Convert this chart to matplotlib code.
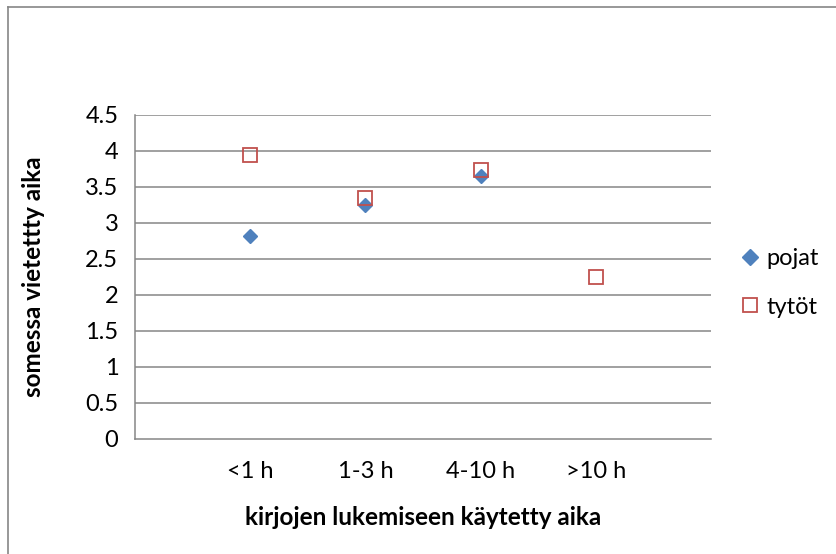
import matplotlib
matplotlib.use('Agg')
import matplotlib.pyplot as plt
from matplotlib.lines import Line2D

# tiedot
luokat = ['<1 h', '1-3 h', '4-10 h', '>10 h']
x_pojat = [1, 2, 3]
pojat = [2.81, 3.24, 3.64]
x_tytot = [1, 2, 3, 4]
tytot = [3.94, 3.34, 3.73, 2.25]
y_ticks = [0, 0.5, 1, 1.5, 2, 2.5, 3, 3.5, 4, 4.5]

plt.rcParams['font.family'] = ['Lato', 'DejaVu Sans']

fig = plt.figure(figsize=(8.36, 5.54), dpi=100)
ax = fig.add_axes([135/836, 1 - 438.5/554, (711 - 135)/836, (438.5 - 114.5)/554])

harmaa = '#868686'
for y in y_ticks[1:]:
    ax.axhline(y, color=harmaa, lw=1.1, zorder=1)

ax.plot(x_pojat, pojat, 'D', color='#4F81BD', ms=7, mec='#4F81BD',
        ls='none', label='pojat', zorder=3)
ax.plot(x_tytot, tytot, 's', mfc='none', mec='#C0504D', mew=1.3, ms=9.5,
        ls='none', label='tytöt', zorder=4)

ax.set_xlim(0, 5)
ax.set_ylim(0, 4.5)
ax.set_yticks(y_ticks)
ax.set_yticklabels([f'{v:g}' for v in y_ticks])
ax.set_xticks([1, 2, 3, 4])
ax.set_xticklabels(luokat)
ax.tick_params(axis='both', length=0, labelsize=17, colors='black')
ax.tick_params(axis='y', pad=12)
ax.tick_params(axis='x', pad=16)

for s in ['top', 'right']:
    ax.spines[s].set_visible(False)
for s in ['left', 'bottom']:
    ax.spines[s].set_color(harmaa)
    ax.spines[s].set_linewidth(1.1)

ax.set_xlabel('kirjojen lukemiseen käytetty aika', fontsize=17.5,
              fontweight='bold')
ax.set_ylabel('somessa vietettty aika', fontsize=17.5, fontweight='bold')
ax.xaxis.set_label_coords(0.5, -0.207)
ax.yaxis.set_label_coords(-0.156, 0.5)

fig.legend(loc='center left', bbox_to_anchor=(731/836, 1 - 283/554),
           frameon=False, fontsize=17, handlelength=0.8, handletextpad=0.3,
           labelspacing=1.15, borderaxespad=0, markerscale=1.1)

# kehys
fig.add_artist(Line2D([8/836, 1.0], [1 - 7/554, 1 - 7/554], color=harmaa, lw=1.2))
fig.add_artist(Line2D([8/836, 8/836], [0.0, 1 - 7/554], color=harmaa, lw=1.2))

fig.savefig('out.png', dpi=100)
